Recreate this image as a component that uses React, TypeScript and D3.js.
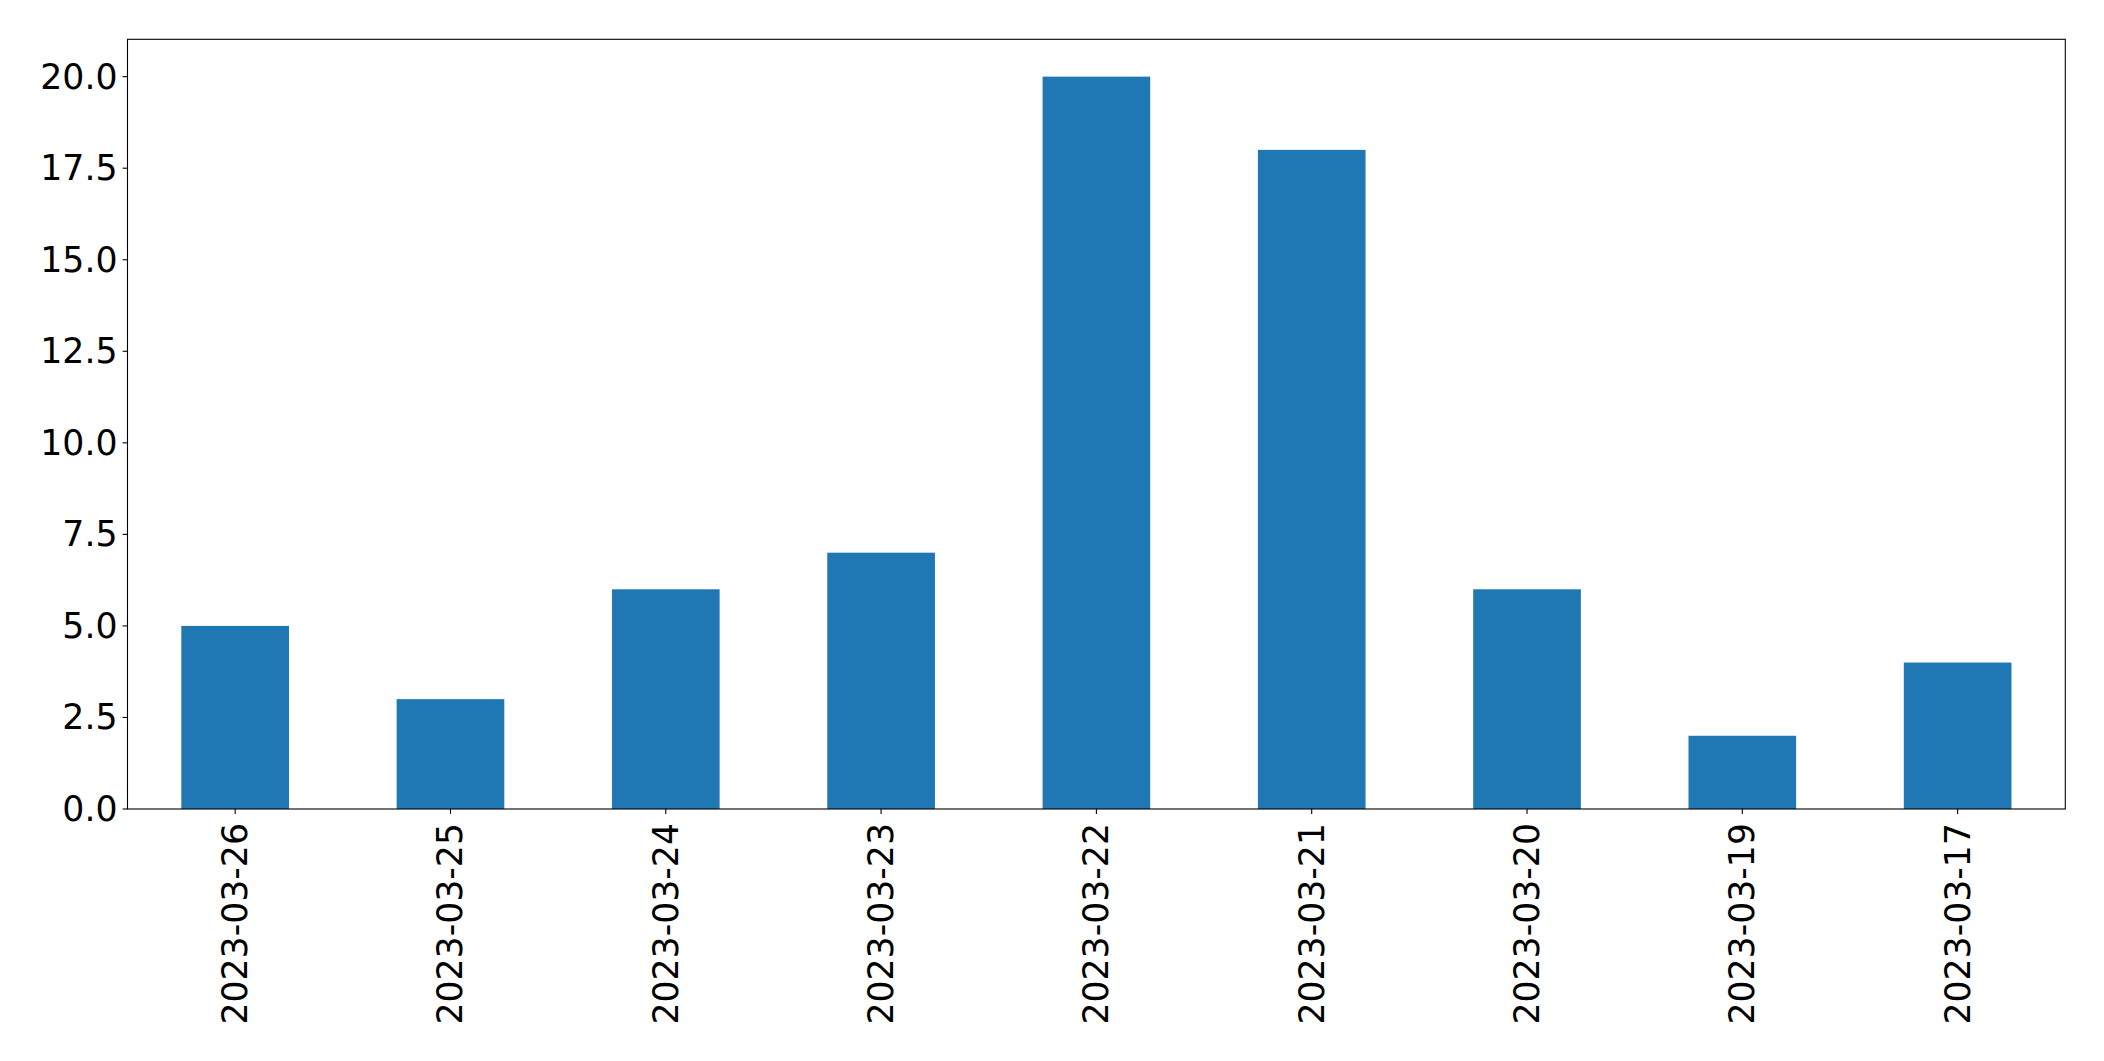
import React from "react";
import * as d3 from "d3";

const categories = ["2023-03-26","2023-03-25","2023-03-24","2023-03-23","2023-03-22","2023-03-21","2023-03-20","2023-03-19","2023-03-17"];
const values = [5, 3, 6, 7, 20, 18, 6, 2, 4];
const yTicks = [0, 2.5, 5, 7.5, 10, 12.5, 15, 17.5, 20];

const W = 2104, H = 1061;
const left = 127.5, right = 2065.3, top = 39.3, bottom = 809;
const FONT = "DejaVu Sans, sans-serif";
const FS = 34.7;

export default function App() {
  const x = d3.scaleLinear().domain([-0.5, categories.length - 0.5]).range([left, right]);
  const y = d3.scaleLinear().domain([0, 21.02]).range([bottom, top]);
  const bw = x(0.25) - x(-0.25);
  return (
    <div style={{ position: "fixed", left: 0, top: 0 }}>
      <svg width={W} height={H} style={{ display: "block", background: "#fff" }}>
        {values.map((v, i) => (
          <rect key={i} x={x(i) - bw / 2} y={y(v)} width={bw} height={y(0) - y(v)} fill="#1f77b4" />
        ))}
        <rect x={left} y={top} width={right - left} height={bottom - top} fill="none" stroke="#000" strokeWidth={1.1} />
        {yTicks.map((t) => (
          <g key={t}>
            <line x1={left - 4.9} x2={left} y1={y(t)} y2={y(t)} stroke="#000" strokeWidth={1.1} />
            <text x={left - 10} y={y(t)} textAnchor="end" dominantBaseline="central" fontFamily={FONT} fontSize={FS} fill="#000">
              {d3.format(".1f")(t)}
            </text>
          </g>
        ))}
        {categories.map((c, i) => (
          <g key={c}>
            <line x1={x(i)} x2={x(i)} y1={bottom} y2={bottom + 4.9} stroke="#000" strokeWidth={1.1} />
            <text
              transform={`translate(${x(i)},${bottom + 14}) rotate(-90)`}
              textAnchor="end"
              dominantBaseline="central"
              fontFamily={FONT}
              fontSize={FS}
              fill="#000"
            >
              {c}
            </text>
          </g>
        ))}
      </svg>
    </div>
  );
}
